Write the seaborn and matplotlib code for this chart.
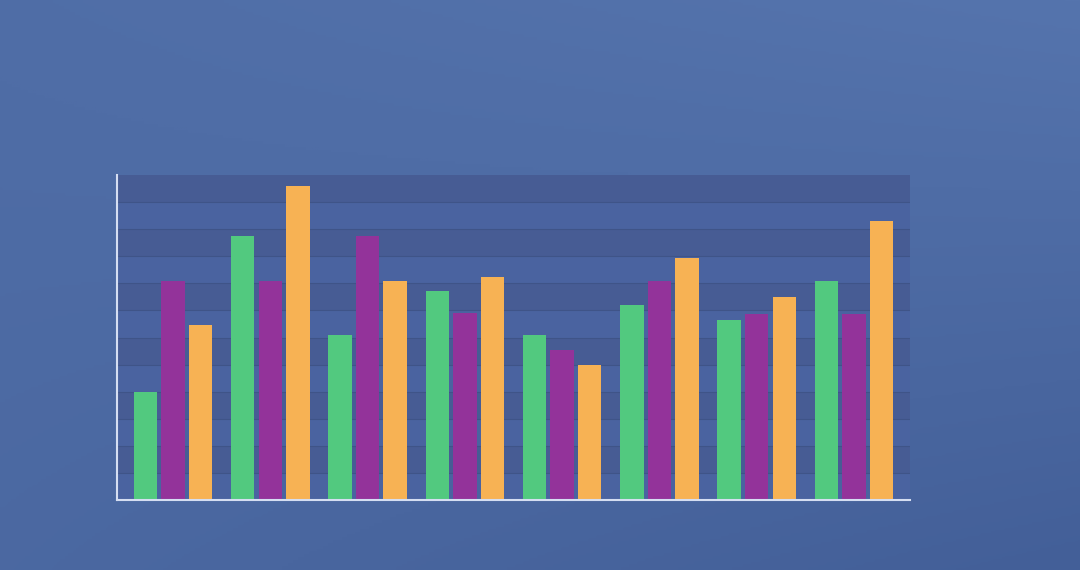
import numpy as np
import pandas as pd
import matplotlib
matplotlib.use("Agg")
import matplotlib.pyplot as plt
import seaborn as sns
from matplotlib.colors import LinearSegmentedColormap

# ---- data ----
categories = ["A", "B", "C", "D", "E", "F", "G", "H"]
series_names = ["Series 1", "Series 2", "Series 3"]
series1 = [4.0, 9.75, 6.1, 7.7, 6.1, 7.2, 6.65, 8.1]
series2 = [8.1, 8.1, 9.75, 6.9, 5.55, 8.1, 6.85, 6.85]
series3 = [6.45, 11.6, 8.1, 8.25, 5.0, 8.95, 7.5, 10.3]
colors = ["#52c97f", "#93339a", "#f7b254"]

df = pd.DataFrame({
    "category": categories * 3,
    "series": [series_names[0]] * 8 + [series_names[1]] * 8 + [series_names[2]] * 8,
    "value": series1 + series2 + series3,
})

sns.set_theme(style="white")
fig = plt.figure(figsize=(10.8, 5.7), dpi=100)

# background gradient (bilinear between corner tones)
bg = fig.add_axes([0, 0, 1, 1])
bg.set_axis_off()
yy, xx = np.mgrid[0:1:200j, 0:1:400j]  # yy=0 at top
tl, tr, bl, br = 0.7, 1.0, 0.45, 0.0
grad = (tl * (1 - xx) * (1 - yy) + tr * xx * (1 - yy)
        + bl * (1 - xx) * yy + br * xx * yy)
cmap = LinearSegmentedColormap.from_list("bgc", ["#435f98", "#5574ad"])
bg.imshow(grad, extent=[0, 1, 0, 1], origin="upper", aspect="auto", cmap=cmap,
          vmin=0, vmax=1)
bg.set_xlim(0, 1)
bg.set_ylim(0, 1)

ax = fig.add_axes([117 / 1080, 1 - 500 / 570, (910 - 117) / 1080, (500 - 175) / 570])
ax.set_facecolor("#4a63a0")
for k in range(1, 12, 2):
    ax.axhspan(k, k + 1, color="#475c94", lw=0, zorder=0)
for k in range(1, 12):
    ax.axhline(k, color="#3f5488", lw=0.8, zorder=0.5)

sns.barplot(data=df, x="category", y="value", hue="series", palette=colors,
            width=0.85, gap=0.15, ax=ax, legend=False, zorder=2,
            saturation=1, linewidth=0)

ax.set_ylim(0, 12)
ax.set_xlim(-0.575, 7.575)
ax.set_xticks([])
ax.set_yticks([])
ax.set_xlabel("")
ax.set_ylabel("")
for s in ["top", "right"]:
    ax.spines[s].set_visible(False)
for s in ["left", "bottom"]:
    ax.spines[s].set_color("#d5def2")
    ax.spines[s].set_linewidth(1.5)
    ax.spines[s].set_zorder(5)

fig.savefig("out.png", dpi=100)
